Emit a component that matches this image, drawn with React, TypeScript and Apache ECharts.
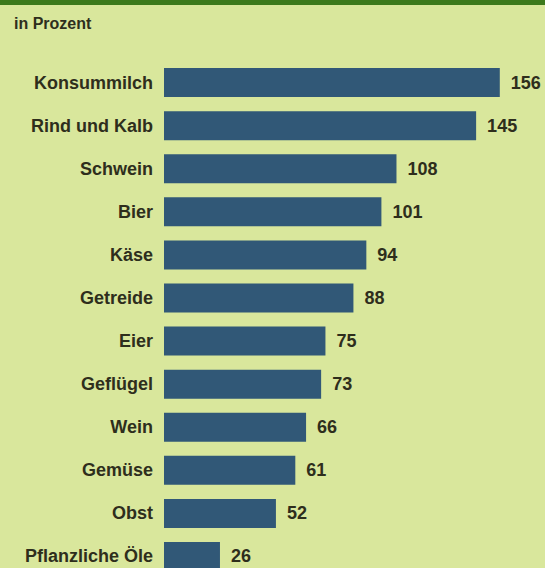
import React, { useEffect, useRef } from "react";
import * as echarts from "echarts";

const categories = [
  "Konsummilch",
  "Rind und Kalb",
  "Schwein",
  "Bier",
  "Käse",
  "Getreide",
  "Eier",
  "Geflügel",
  "Wein",
  "Gemüse",
  "Obst",
  "Pflanzliche Öle",
];
const values = [156, 145, 108, 101, 94, 88, 75, 73, 66, 61, 52, 26];
const unitLabel = "in Prozent";

const FONT = "Liberation Sans, Arial, sans-serif";

export default function App() {
  const ref = useRef<HTMLDivElement>(null);
  useEffect(() => {
    if (!ref.current) return;
    const chart = echarts.init(ref.current, undefined, { renderer: "svg" });
    chart.setOption({
      animation: false,
      backgroundColor: "#d9e79c",
      textStyle: { fontFamily: FONT },
      graphic: [
        {
          type: "rect",
          left: 0,
          top: 0,
          shape: { width: 545, height: 5 },
          style: { fill: "#3c7a1c" },
        },
        {
          type: "text",
          left: 14,
          top: 15,
          style: {
            text: unitLabel,
            fontSize: 16,
            fontWeight: "bold",
            fill: "#2e2e1c",
            fontFamily: FONT,
          },
        },
      ],
      grid: { left: 164, right: 0, top: 61, bottom: 0, containLabel: false },
      xAxis: {
        type: "value",
        min: 0,
        max: 177,
        show: false,
      },
      yAxis: {
        type: "category",
        data: categories,
        inverse: true,
        axisLine: { show: false },
        axisTick: { show: false },
        axisLabel: {
          margin: 11,
          fontSize: 18,
          fontWeight: "bold",
          color: "#2e2e1c",
          fontFamily: FONT,
        },
      },
      series: [
        {
          type: "bar",
          data: values,
          barWidth: 29,
          itemStyle: { color: "#315877" },
          label: {
            show: true,
            position: "right",
            distance: 11,
            fontSize: 18,
            fontWeight: "bold",
            color: "#2e2e1c",
            fontFamily: FONT,
          },
        },
      ],
    });
    return () => chart.dispose();
  }, []);
  return (
    <div
      ref={ref}
      style={{ position: "fixed", left: 0, top: 0, width: 545, height: 578 }}
    />
  );
}
